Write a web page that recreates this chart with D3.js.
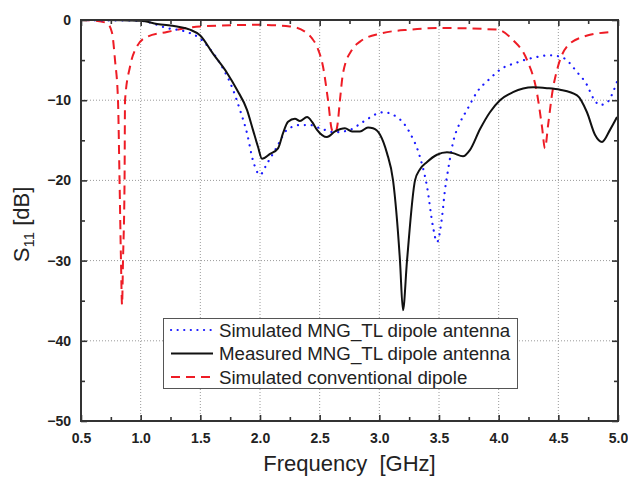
<!DOCTYPE html>
<html><head><meta charset="utf-8">
<script src="https://cdn.jsdelivr.net/npm/d3@7"></script>
<style>
html,body{margin:0;padding:0;background:#fff;}
svg{display:block;font-family:"Liberation Sans",Arial,sans-serif;}
</style></head>
<body><svg id="c" width="628" height="477"></svg>
<script>
// Data (frequency GHz, S11 dB)
const simFreq = [0.5,0.7,0.9,1.003,1.221,1.388,1.497,1.58,1.665,1.774,1.832,1.891,1.941,2.0,2.059,2.143,2.226,2.335,2.419,2.503,2.629,2.754,2.863,3.031,3.148,3.257,3.341,3.400,3.450,3.483,3.525,3.550,3.576,3.617,3.676,3.735,3.818,3.927,4.011,4.154,4.321,4.430,4.539,4.657,4.740,4.791,4.849,4.908,4.958,4.992];
const simS11  = [0,-0.05,-0.05,-0.1,-1.0,-1.5,-2.3,-3.6,-5.4,-8.7,-11.2,-14.1,-17.5,-19.3,-17.9,-15.8,-13.7,-13.1,-13.1,-13.5,-14.0,-13.7,-12.7,-11.5,-12.1,-14.1,-17.1,-20.8,-25.8,-27.7,-24.6,-21.2,-18.7,-15.3,-12.8,-11.2,-9.0,-7.3,-6.2,-5.3,-4.6,-4.4,-4.7,-6.5,-8.1,-9.7,-10.6,-10.3,-9.0,-7.7];

const measFreq = [0.5,0.7,0.9,1.003,1.137,1.304,1.413,1.497,1.606,1.724,1.807,1.891,1.941,1.983,2.017,2.084,2.151,2.193,2.235,2.293,2.335,2.394,2.436,2.478,2.561,2.629,2.712,2.771,2.838,2.905,2.947,3.006,3.064,3.115,3.173,3.198,3.232,3.299,3.341,3.400,3.483,3.567,3.617,3.701,3.760,3.844,3.927,4.011,4.120,4.288,4.405,4.514,4.657,4.740,4.807,4.866,4.933,4.992];
const measS11  = [0,0,-0.05,-0.1,-0.5,-0.8,-1.2,-1.9,-4.2,-6.6,-8.7,-11.2,-13.7,-15.8,-17.3,-16.7,-16.0,-14.1,-12.7,-12.3,-12.6,-12.1,-12.7,-13.7,-14.6,-13.9,-13.5,-13.9,-13.9,-13.4,-13.5,-14.3,-16.6,-20.0,-30.0,-36.2,-30.0,-20.0,-18.6,-17.7,-16.8,-16.5,-16.6,-17.0,-16.2,-13.6,-11.5,-10.0,-9.0,-8.4,-8.5,-8.7,-9.4,-11.5,-14.3,-15.2,-13.7,-12.1];

const convFreq = [0.5,0.62,0.718,0.76,0.785,0.810,0.823,0.835,0.844,0.852,0.865,0.869,0.911,0.969,1.053,1.22,1.497,2.0,2.25,2.39,2.436,2.48,2.528,2.570,2.603,2.629,2.650,2.670,2.696,2.771,2.838,3.006,3.257,3.508,3.986,4.120,4.238,4.321,4.363,4.388,4.415,4.450,4.497,4.573,4.707,4.933];
const convS11  = [0,-0.1,-0.4,-1.6,-5.0,-10,-20,-30,-35.5,-30,-20,-10,-5.8,-3.3,-2.1,-1.5,-0.8,-0.6,-0.8,-1.6,-2.3,-3.4,-5.8,-10,-13.7,-14.1,-13.0,-10,-6.6,-3.7,-2.7,-1.7,-1.2,-1.0,-1.2,-2.5,-5.0,-9.1,-13.3,-16.0,-13.0,-9.0,-5.8,-3.3,-2.1,-1.5];

const xTicks = [0.5,1.0,1.5,2.0,2.5,3.0,3.5,4.0,4.5,5.0];
const yTicks = [0,-10,-20,-30,-40,-50];
const legendLabels = ["Simulated MNG_TL dipole antenna","Measured MNG_TL dipole antenna","Simulated conventional dipole"];

const svg = d3.select("#c");
const L=81,R=618,T=20,B=421;
const x = d3.scaleLinear().domain([0.5,5]).range([L,R]);
const y = d3.scaleLinear().domain([-50,0]).range([B,T]);

// grid
const g = svg.append("g");
g.selectAll(".gx").data(xTicks.slice(1,-1)).enter().append("line")
 .attr("x1",d=>x(d)).attr("x2",d=>x(d)).attr("y1",T).attr("y2",B)
 .attr("stroke","#9a9a9a").attr("stroke-width",1).attr("stroke-dasharray","1,2");
g.selectAll(".gy").data(yTicks.slice(1,-1)).enter().append("line")
 .attr("y1",d=>y(d)).attr("y2",d=>y(d)).attr("x1",L).attr("x2",R)
 .attr("stroke","#9a9a9a").attr("stroke-width",1).attr("stroke-dasharray","1,2");

// clip
svg.append("clipPath").attr("id","clp").append("rect").attr("x",L).attr("y",T).attr("width",R-L).attr("height",B-T);

const line = d3.line().x(d=>x(d[0])).y(d=>y(d[1])).curve(d3.curveMonotoneX);
const cg = svg.append("g").attr("clip-path","url(#clp)");
cg.append("path").datum(d3.zip(convFreq,convS11)).attr("d",line)
 .attr("fill","none").attr("stroke","#ee1c25").attr("stroke-width",2).attr("stroke-dasharray","9,6");
cg.append("path").datum(d3.zip(simFreq,simS11)).attr("d",line)
 .attr("fill","none").attr("stroke","#1a1aff").attr("stroke-width",2.2).attr("stroke-dasharray","0.1,6.8").attr("stroke-linecap","round");
cg.append("path").datum(d3.zip(measFreq,measS11)).attr("d",line)
 .attr("fill","none").attr("stroke","#111").attr("stroke-width",2);

// axes with inward ticks
const tickSize=6, minorSize=4;
const minorX = d3.range(0.75,5,0.5);
const minorY = d3.range(-45,0,10);
const axBottom = d3.axisBottom(x).tickValues(xTicks).tickSize(-tickSize).tickFormat(d3.format(".1f")).tickPadding(12);
const axLeft = d3.axisLeft(y).tickValues(yTicks).tickSize(-tickSize).tickFormat(d=>d3.format("d")(d)).tickPadding(10);
const axTop = d3.axisTop(x).tickValues(xTicks).tickSize(-tickSize).tickFormat("");
const axRight = d3.axisRight(y).tickValues(yTicks).tickSize(-tickSize).tickFormat("");
function styleAx(sel){sel.selectAll("path").remove();sel.selectAll("line").attr("stroke","#333").attr("stroke-width",1.6);
 sel.selectAll("text").attr("font-family","'Liberation Sans',Arial,sans-serif").attr("font-weight","bold").attr("font-size","14px").attr("fill","#222");}
svg.append("g").attr("transform",`translate(0,${B})`).call(axBottom).call(styleAx);
svg.append("g").attr("transform",`translate(${L},0)`).call(axLeft).call(styleAx);
svg.append("g").attr("transform",`translate(0,${T})`).call(axTop).call(styleAx);
svg.append("g").attr("transform",`translate(${R},0)`).call(axRight).call(styleAx);
svg.append("g").attr("transform",`translate(0,${B})`).call(d3.axisBottom(x).tickValues(minorX).tickSize(-minorSize).tickFormat("")).call(styleAx);
svg.append("g").attr("transform",`translate(0,${T})`).call(d3.axisTop(x).tickValues(minorX).tickSize(-minorSize).tickFormat("")).call(styleAx);
svg.append("g").attr("transform",`translate(${L},0)`).call(d3.axisLeft(y).tickValues(minorY).tickSize(-minorSize).tickFormat("")).call(styleAx);
svg.append("g").attr("transform",`translate(${R},0)`).call(d3.axisRight(y).tickValues(minorY).tickSize(-minorSize).tickFormat("")).call(styleAx);

// frame
svg.append("rect").attr("x",L).attr("y",T).attr("width",R-L).attr("height",B-T)
 .attr("fill","none").attr("stroke","#333").attr("stroke-width",2);

// axis titles
svg.append("text").attr("x",(L+R)/2).attr("y",471).attr("text-anchor","middle")
 .attr("font-size","22px").attr("fill","#222").style("white-space","pre").text("Frequency  [GHz]");
const yt = svg.append("text").attr("transform",`translate(29,${(T+B)/2+4}) rotate(-90)`).attr("text-anchor","middle")
 .attr("font-size","22px").attr("fill","#222").style("white-space","pre");
yt.append("tspan").text("S");
yt.append("tspan").attr("font-size","15px").attr("dy",5).text("11");
yt.append("tspan").attr("dy",-5).text(" [dB]");

// legend
const lg = svg.append("g");
lg.append("rect").attr("x",163.5).attr("y",318.5).attr("width",354).attr("height",70)
 .attr("fill","#fff").attr("stroke","#555").attr("stroke-width",1);
const styles=[{c:"#1a1aff",d:"0.1,6.5",w:2.2,cap:"round"},{c:"#111",d:null,w:2,cap:"butt"},{c:"#ee1c25",d:"9,6",w:2,cap:"butt"}];
legendLabels.forEach((t,i)=>{
  const yy=330+i*23.5;
  const s=styles[i];
  const ln=lg.append("line").attr("x1",171).attr("x2",213).attr("y1",yy).attr("y2",yy)
   .attr("stroke",s.c).attr("stroke-width",s.w).attr("stroke-linecap",s.cap);
  if(s.d) ln.attr("stroke-dasharray",s.d);
  lg.append("text").attr("x",219).attr("y",yy+6.5).attr("font-size","18.7px").attr("fill","#222").text(t);
});
</script></body></html>
